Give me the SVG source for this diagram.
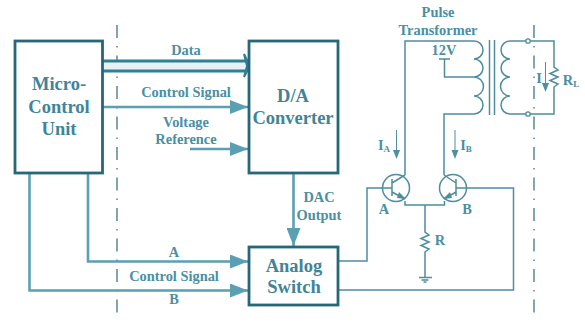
<svg xmlns="http://www.w3.org/2000/svg" width="585" height="324" viewBox="0 0 585 324">
<defs>
<marker id="ah" markerUnits="userSpaceOnUse" markerWidth="19" markerHeight="14" refX="18" refY="7" orient="auto"><path d="M0 0L18 7L0 14Z" fill="#5b9fb3"/></marker>
</defs>
<style>
.box{fill:#fff;stroke:#26687a;stroke-width:2.8}
.big{font:bold 18.500px "Liberation Serif",serif;fill:#3f8499;text-anchor:middle}
.t{font:bold 14.400px "Liberation Serif",serif;fill:#4a8fa3;text-anchor:middle}
.sig{fill:none;stroke:#5b9fb3;stroke-width:2.6}
.w{fill:none;stroke:#4d8d9e;stroke-width:1.5}
.dash{fill:none;stroke:#4d7f8e;stroke-width:1.4;stroke-dasharray:13 8 1.5 8}
.i{stroke:#4f8f9f;stroke-width:1;fill:none}
.ah2{fill:#4f8f9f}
</style>
<rect width="585" height="324" fill="#fff"/>
<g id="guides">
<path class="dash" d="M117 25V320"/>
<path class="dash" d="M534 25V320"/>
</g>
<g id="connectors">
<rect x="103" y="62" width="144" height="9" fill="#e6f2f5"/>
<path d="M103 61H247M103 71H247" fill="none" stroke="#2f7f96" stroke-width="3"/>
<path d="M244 54L250 66L244 77L247 66Z" fill="#2f7f96" stroke="#2f7f96" stroke-width="2"/>
<path class="sig" d="M103 107H248" marker-end="url(#ah)"/>
<path class="sig" d="M190 149H248" marker-end="url(#ah)"/>
<path class="sig" d="M293.500 173V246" marker-end="url(#ah)"/>
<path class="sig" d="M88 173V261.500H248" marker-end="url(#ah)"/>
<path class="sig" d="M29.500 173V290.500H248" marker-end="url(#ah)"/>
<path class="w" d="M338 261H367V188H383"/>
<path class="w" d="M338 290H513.500V188H466"/>
<path class="w" d="M405 175V41H474A9 9 0 0 1 474 59A9 9 0 0 1 474 77A9.500 9.500 0 0 1 474 96A9 9 0 0 1 474 114H444V175"/>
<path class="w" d="M444.500 59V77H474"/>
<path class="w" d="M439 59H450"/>
<path class="w" d="M489.500 40V115M494.500 40V115" stroke-width="1.800"/>
<path class="w" d="M527 41H510A9 9 0 0 0 510 59A9 9 0 0 0 510 77A9.500 9.500 0 0 0 510 96A9 9 0 0 0 510 114H527"/>
<path class="w" d="M529 41H554V67L558 70L550 73.500L558 77L550 80.500L558 84L554 87V114H529"/>
<circle cx="528" cy="41" r="2.200" fill="#fff" stroke="#4d8d9e" stroke-width="1.300"/>
<circle cx="528" cy="114" r="2.200" fill="#fff" stroke="#4d8d9e" stroke-width="1.300"/>
<path class="i" d="M545.500 62V84"/><path class="ah2" d="M542 83H549L545.500 92Z"/>
<path class="i" d="M396.500 130V150"/><path class="ah2" d="M393 150H400L396.500 159Z"/>
<path class="i" d="M455 130V150"/><path class="ah2" d="M451.500 150H458.500L455 159Z"/>
<path class="w" d="M405 201V205H444.500V201"/>
<path class="w" d="M425 205V232L429 235L421 238.500L429 242L421 245.500L429 249L425 252V277"/>
<path class="w" d="M419 277.500H432" stroke-width="2"/>
<path d="M421.500 280H428.500M423.500 282H426.500" stroke="#4d8d9e" stroke-width="1.500"/>
</g>
<g id="mcu">
<rect class="box" x="15" y="41" width="87.500" height="132"/>
<text class="big" x="59" y="90">Micro-</text>
<text class="big" x="59" y="113">Control</text>
<text class="big" x="59" y="135">Unit</text>
</g>
<g id="dac">
<rect class="box" x="249" y="41" width="89" height="132"/>
<text class="big" x="293" y="102">D/A</text>
<text class="big" x="293" y="124">Converter</text>
</g>
<g id="switch">
<rect class="box" x="249" y="247" width="89" height="58"/>
<text class="big" x="294" y="272">Analog</text>
<text class="big" x="294" y="293">Switch</text>
</g>
<g id="transistorA">
<circle cx="396" cy="188" r="13.500" fill="#fff" stroke="#4d8d9e" stroke-width="1.500"/>
<path class="w" d="M383 188H392M392 179V196M392 183L405 175M392 192L405 199"/>
<path d="M399 192L406 199L397 198Z" fill="#4d8d9e"/>
</g>
<g id="transistorB">
<circle cx="453" cy="188" r="13.500" fill="#fff" stroke="#4d8d9e" stroke-width="1.500"/>
<path class="w" d="M466 188H456M456 179V196M456 183L444 175M456 192L444 199"/>
<path d="M450 192L443 199L452 198Z" fill="#4d8d9e"/>
</g>
<g id="labels">
<text class="t" x="186" y="55">Data</text>
<text class="t" x="186" y="97">Control Signal</text>
<text class="t" x="186" y="127">Voltage</text>
<text class="t" x="186" y="144">Reference</text>
<text class="t" x="319" y="202">DAC</text>
<text class="t" x="319" y="220">Output</text>
<text class="t" x="174" y="257">A</text>
<text class="t" x="174" y="281">Control Signal</text>
<text class="t" x="174" y="304">B</text>
<text class="t" x="438" y="17">Pulse</text>
<text class="t" x="438" y="35">Transformer</text>
<text class="t" x="444" y="55">12V</text>
<text class="t" x="539" y="83">I</text>
<text class="t" x="571" y="85">R<tspan font-size="9" dy="2">L</tspan></text>
<text class="t" x="384" y="150">I<tspan font-size="9" dy="2">A</tspan></text>
<text class="t" x="466" y="150">I<tspan font-size="9" dy="2">B</tspan></text>
<text class="t" x="384" y="214">A</text>
<text class="t" x="467" y="214">B</text>
<text class="t" x="440" y="245">R</text>
</g>
</svg>
